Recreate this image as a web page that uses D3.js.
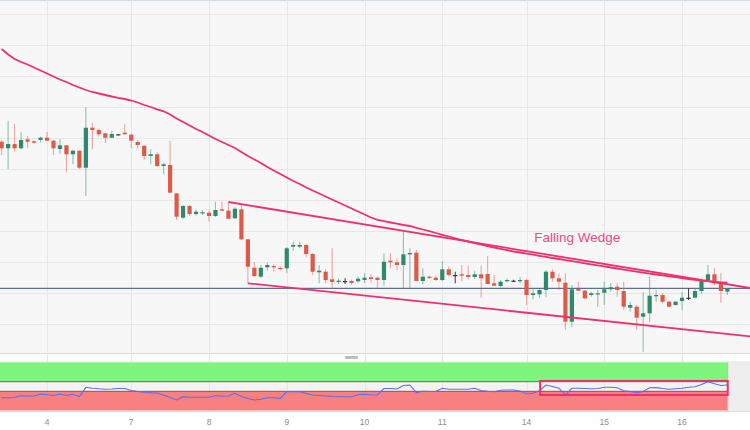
<!DOCTYPE html>
<html><head><meta charset="utf-8">
<script src="https://cdn.jsdelivr.net/npm/d3@7"></script>
<style>body{margin:0;background:#fff}svg{display:block}</style>
</head><body><svg id="c" width="750" height="430"></svg>
<script>
// ---- data ----
const open=[1858.3,1851.7,1856,1851.7,1860.7,1858.7,1860,1862.3,1859.3,1851,1854.7,1845.7,1849.3,1832.3,1872.3,1870,1866.7,1862.3,1865.7,1867.3,1865.3,1858,1854.3,1844,1845.7,1834,1835,1806.7,1782.3,1794,1786,1786.7,1787.3,1784,1790.7,1789.3,1781.7,1790.7,1760.7,1732.3,1723.3,1732.7,1734,1732,1731.7,1753.3,1753.3,1755,1746,1727.7,1728.3,1720.7,1718,1719,1719,1718.7,1720,1722.7,1722.3,1720,1739.3,1737.7,1735,1745.7,1747.3,1719,1723.3,1722.3,1720,1730.7,1725,1725.7,1725,1723,1725.7,1726,1716.7,1714,1718.7,1719.3,1718.7,1720,1705,1705.7,1710,1728.3,1721.7,1717.3,1678.3,1711,1709.3,1705,1706,1707.3,1710.7,1713.3,1709,1692.3,1693.3,1683.3,1686.7,1703.7,1705,1698.3,1695,1699,1702.3,1702.3,1709,1720,1725.7,1716.7,1708.3];
const high=[1860,1879.3,1876,1868.3,1864,1860,1863.3,1868,1860,1860.7,1855,1850,1849.3,1892.7,1877.3,1871.7,1867,1869.3,1866,1875.7,1866.7,1860,1854.3,1850.7,1847.7,1837,1859.3,1807,1795,1795.3,1790.7,1790,1789.3,1798.3,1798.3,1798,1792.7,1794,1761,1738,1735,1737.3,1735.7,1734,1753,1758.3,1758.3,1756,1747,1735,1730.7,1751.7,1721.7,1721.7,1720.3,1723.3,1726.7,1725.7,1723.3,1746.7,1746.7,1741.7,1768.3,1751.7,1750,1731.7,1724.3,1724.3,1739,1733.3,1728.3,1735,1734.3,1729.3,1734.3,1744,1725,1720,1721.7,1720.3,1723.3,1721,1710.7,1711.7,1730,1730.7,1726.7,1726.7,1715,1718.3,1710,1708.3,1710,1718.3,1716.7,1716.7,1718.3,1698.3,1695,1707.7,1723.3,1710,1706.7,1699.3,1699.3,1708.3,1711.7,1711.7,1721.7,1735,1731.7,1726.7,1712];
const low=[1845,1831,1848.3,1850.7,1851.7,1856,1857.3,1859,1845,1846,1827.7,1836,1831,1804,1850.7,1863.3,1857.3,1862,1865.3,1865.3,1851.7,1851.7,1840,1835.7,1833.3,1825.7,1807.3,1780,1781,1784,1784.3,1785,1778.3,1783,1789,1781,1781,1760,1716.7,1723,1722,1729.3,1728.3,1729.5,1726.7,1749.3,1751.7,1742.7,1725,1716.7,1716.7,1711.7,1716,1716,1715,1716.7,1717,1717.7,1711.7,1714.3,1731.7,1730,1711.7,1711.7,1719,1715.7,1721,1719,1719,1723.3,1716.7,1719,1721,1721,1702.3,1716,1714,1712.7,1717.7,1718.7,1716.7,1695,1700.7,1701.7,1702.7,1718.3,1710,1670,1673.3,1709,1700.7,1703.3,1693.3,1695,1708.3,1703.3,1690,1688.3,1670,1648.3,1678.3,1698.3,1696.7,1692.7,1694.3,1690,1700,1701.7,1705.7,1718.3,1715,1697.3,1705];
const close=[1851.7,1856,1851.7,1860,1858.3,1857.3,1862.3,1859.3,1851.7,1854.7,1845.7,1849.3,1832.3,1872.3,1870,1865.7,1862.3,1866,1865.7,1865.7,1859.3,1855,1844,1845.7,1834,1835.7,1807.3,1783.3,1794,1786,1788.3,1787.7,1784,1790,1789.3,1781.3,1791.3,1760.7,1733.3,1724,1732.3,1735,1732.7,1731,1751.7,1755,1755,1746,1728.3,1729.3,1720,1718,1719.3,1719,1717,1721.3,1722.3,1721,1720,1738.3,1737.7,1735,1745.7,1747,1719,1723.3,1722.3,1720,1730.7,1725,1725,1724.3,1723,1725.7,1721.7,1716,1714.3,1718.3,1720,1719.3,1720,1705,1706.7,1710,1728.3,1721.7,1718.3,1678.3,1710.7,1709.3,1701.7,1706.7,1706.7,1710.7,1712.7,1710,1693.3,1695,1682.3,1686.7,1704.3,1705,1698.3,1693.3,1698.3,1702.3,1702.3,1709,1719,1725.7,1716.7,1709,1711.7];
const movingAvg=[1951,1945.5,1941,1938,1935.5,1932.5,1929.5,1926.5,1923.5,1920.5,1918,1915,1912.5,1910,1908,1906.5,1905,1903.5,1902.2,1901,1899.5,1897.5,1895,1893,1890.7,1888.7,1885.5,1881.5,1878,1874.5,1871,1868,1864.5,1861,1858,1855,1852,1848,1844,1840.5,1837,1833,1829.5,1826,1822.5,1819,1816,1812.5,1809.5,1806.5,1803.5,1800.5,1797.5,1794.5,1791.5,1788.5,1785.5,1782.5,1780.2,1778.8,1777.5,1776.3,1775,1774,1772.2,1770.5,1768.8,1767,1765.2,1763.5,1761.7,1760,1758.5,1757,1755.5,1754,1752.5,1751.2,1749.8,1748.5,1747.5,1746.4,1745.3,1744.2,1743.2,1742,1741,1739.8,1738.8,1737.8,1736.7,1735.7,1734.6,1733.6,1732.5,1731.5,1730.4,1729.4,1728.4,1727.4,1726.4,1725.5,1724.6,1723.7,1722.8,1722,1721,1720.2,1719.4,1718.8,1718.2,1717.7,1717.3];
const rsi=[26.7,26.7,27.1,30.8,30.2,30.2,34.4,32.9,31.3,34.4,31.3,33.8,28.8,48.3,46.3,45.2,44.4,44.8,45.8,45.8,41.7,39.6,37.5,36.9,36,32.3,27.1,21.9,28.8,27.7,27.5,27.5,27.7,30.6,29.8,30.2,35.8,29.2,25,21.9,23.3,26.7,26.7,25.4,39,39.2,39.2,35.4,32.3,31.3,30.2,29.2,28.8,28.8,28.8,32.9,33.8,32.7,32.3,45.8,45.8,44.8,52.1,53.1,37.1,40,39.6,39.6,46.3,44.4,44.2,44.2,44.2,46.3,41.7,40,39.2,42.1,42.7,42.7,40.6,34.4,35.8,41,53.1,50,46.5,32.3,46.3,46.3,45.8,45.2,45.8,48.3,48.3,47.3,41.3,39.6,36.5,39.6,47.3,47.7,45.8,44.4,45.4,46.3,48.5,49.6,54.2,60,55.6,52.1,53.1];
const tickIndex=[7,20,32,44,56,68,81,93,105];
const tickLabels=["4","7","8","9","10","11","14","15","16"];
const gridLevels=[1986,1955,1924,1893,1862,1831,1800,1769,1738,1707,1676];
const supportLevel=1711.7;
const upperTrend=[[35,1798],[115.5,1712]];
const lowerTrend=[[38,1716.7],[115.5,1663.7]];
const patternText="Falling Wedge";
const patternAt=[82.2,1758];
const rsiUpperBand=[60,100];
const rsiLowerBand=[0,40];
const highlightBox={i0:83.1,i1:112.05,v0:32.3,v1:61.5};

// ---- drawing ----
const W=750;
const svg=d3.select("#c");
const x=d3.scaleLinear().domain([0,112]).range([1.64,727.4]);
const y=d3.scaleLinear().domain([2000,1648]).range([0,352]);
const r=d3.scaleLinear().domain([0,100]).range([410.5,362.5]);
const pink="#f0306c";

// backgrounds
svg.append("rect").attr("x",0).attr("y",0).attr("width",W).attr("height",353).attr("fill","#f7f7f7");
svg.append("rect").attr("x",0).attr("y",362).attr("width",W).attr("height",49).attr("fill","#f3f3f3");
svg.append("line").attr("x1",0).attr("x2",W).attr("y1",0.5).attr("y2",0.5).attr("stroke","#d3dbe9");
svg.append("line").attr("x1",0).attr("x2",W).attr("y1",353.5).attr("y2",353.5).attr("stroke","#dddddd");
svg.append("line").attr("x1",0).attr("x2",W).attr("y1",362).attr("y2",362).attr("stroke","#e2e2e2");
svg.append("line").attr("x1",0).attr("x2",W).attr("y1",411.5).attr("y2",411.5).attr("stroke","#dddddd");

// grid
svg.append("g").selectAll("line").data(gridLevels).join("line")
  .attr("x1",0).attr("x2",W).attr("y1",d=>Math.round(y(d))+0.5).attr("y2",d=>Math.round(y(d))+0.5)
  .attr("stroke","#e7e7e7");
svg.append("g").selectAll("line").data(tickIndex).join("line")
  .attr("x1",d=>Math.round(x(d))+0.5).attr("x2",d=>Math.round(x(d))+0.5).attr("y1",0).attr("y2",411)
  .attr("stroke","#e7e7e7");

// RSI bands
const xEnd=x(112)+0.3;
svg.append("rect").attr("x",0).attr("width",xEnd).attr("y",r(rsiUpperBand[1])).attr("height",r(rsiUpperBand[0])-r(rsiUpperBand[1])).attr("fill","#7ef57c");
svg.append("rect").attr("x",0).attr("width",xEnd).attr("y",r(rsiLowerBand[1])).attr("height",r(rsiLowerBand[0])-r(rsiLowerBand[1])).attr("fill","#f88080");
svg.append("rect").attr("x",xEnd).attr("width",W-xEnd).attr("y",362.5).attr("height",48.5).attr("fill","#eeeeee");
svg.append("line").attr("x1",xEnd).attr("x2",xEnd).attr("y1",362.5).attr("y2",411).attr("stroke","#bbbbbb");
svg.append("line").attr("x1",0).attr("x2",xEnd).attr("y1",r(rsiUpperBand[0])).attr("y2",r(rsiUpperBand[0])).attr("stroke","#2f4a2f").attr("stroke-opacity",0.7);
svg.append("line").attr("x1",0).attr("x2",xEnd).attr("y1",r(rsiLowerBand[1])).attr("y2",r(rsiLowerBand[1])).attr("stroke","#5a2f2f").attr("stroke-opacity",0.7);
// divider handle
svg.append("rect").attr("x",345).attr("y",356).attr("width",13).attr("height",3).attr("rx",1).attr("fill","#bdbdbd");

// RSI line
svg.append("path").datum(rsi).attr("fill","none").attr("stroke","#5b6ef0").attr("stroke-width",1.1)
  .attr("d",d3.line().x((d,i)=>x(i)).y(d=>r(d)));
svg.append("rect").attr("x",x(highlightBox.i0)).attr("y",r(highlightBox.v1))
  .attr("width",x(highlightBox.i1)-x(highlightBox.i0)).attr("height",r(highlightBox.v0)-r(highlightBox.v1))
  .attr("fill","none").attr("stroke",pink).attr("stroke-width",2);

// main plot clip
svg.append("clipPath").attr("id","mc").append("rect").attr("x",0).attr("y",1).attr("width",W).attr("height",352);
const main=svg.append("g").attr("clip-path","url(#mc)");

// support line
main.append("line").attr("x1",0).attr("x2",W).attr("y1",y(supportLevel)).attr("y2",y(supportLevel)).attr("stroke","#5d6f96").attr("stroke-width",1.2);

// candles
const idx=d3.range(open.length);
const col=i=> close[i]>open[i]?"#2f8a6d":(close[i]<open[i]?"#dd5a48":"#333333");
const bw=4.2;
const cg=main.append("g");
cg.selectAll("line").data(idx).join("line")
  .attr("x1",i=>x(i)).attr("x2",i=>x(i)).attr("y1",i=>y(high[i])).attr("y2",i=>y(low[i]))
  .attr("stroke",col).attr("stroke-opacity",i=>close[i]===open[i]?0.9:0.5).attr("stroke-width",1.1);
cg.selectAll("rect").data(idx).join("rect")
  .attr("x",i=>x(i)-bw/2).attr("width",bw)
  .attr("y",i=>y(Math.max(open[i],close[i])))
  .attr("height",i=>Math.max(1.2,Math.abs(y(open[i])-y(close[i]))))
  .attr("fill",col);

// moving average
main.append("path").datum(movingAvg).attr("fill","none").attr("stroke",pink).attr("stroke-width",1.8)
  .attr("d",d3.line().x((d,i)=>x(i)).y(d=>y(d)));
// trendlines
const tl=d3.line().x(d=>x(d[0])).y(d=>y(d[1]));
[upperTrend,lowerTrend].forEach(t=>{
  main.append("path").datum(t).attr("fill","none").attr("stroke",pink).attr("stroke-width",1.8).attr("d",tl);
});
main.append("text").attr("x",x(patternAt[0])).attr("y",y(patternAt[1]))
  .attr("font-family","Liberation Sans, Arial, sans-serif").attr("font-size",13.5).attr("fill","#ee4a82")
  .text(patternText);

// x axis labels
svg.append("g").selectAll("text").data(tickIndex).join("text")
  .attr("x",d=>x(d)).attr("y",424.5).attr("text-anchor","middle")
  .attr("font-family","Liberation Sans, Arial, sans-serif").attr("font-size",8.5).attr("fill","#8c8c8c")
  .text((d,i)=>tickLabels[i]);
</script></body></html>
